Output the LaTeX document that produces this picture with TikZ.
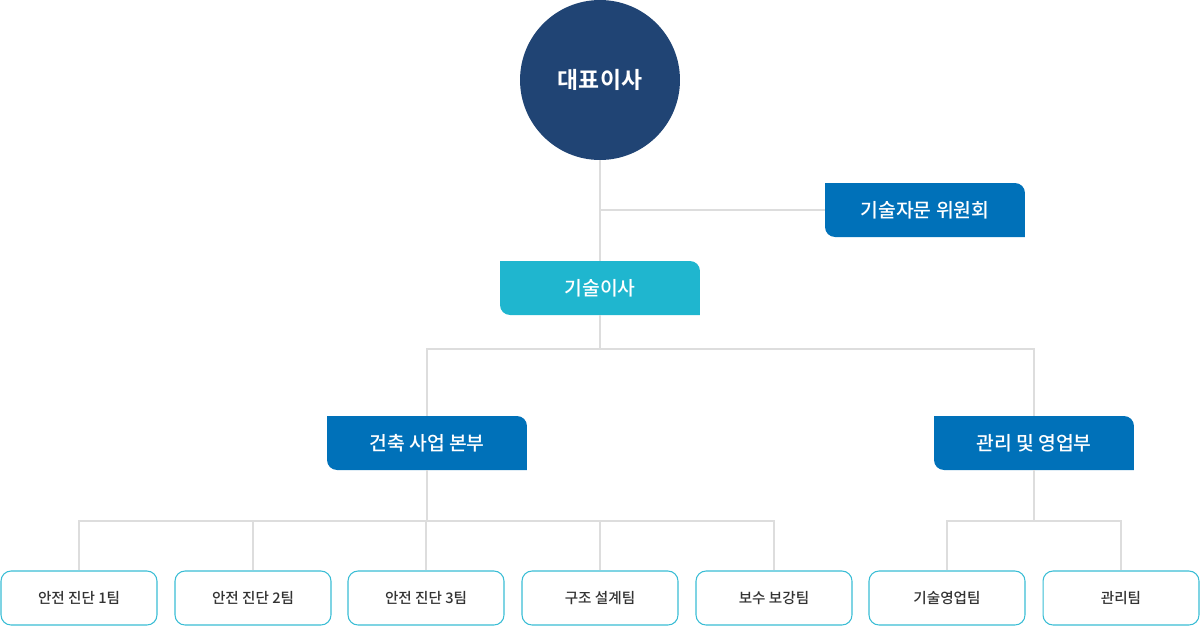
\documentclass[tikz,border=0pt]{standalone}
\usepackage{fontspec}
\newfontfamily\kr{Noto Sans CJK KR}[UprightFont={* Medium}, BoldFont={* Bold}]
\usetikzlibrary{calc}
\definecolor{navy}{HTML}{204474}
\definecolor{deptblue}{HTML}{0071B9}
\definecolor{techcyan}{HTML}{1FB6CF}
\definecolor{teamline}{HTML}{3ABDD5}
\definecolor{linkgray}{HTML}{DDDDDD}
\definecolor{teamtext}{HTML}{333333}

\tikzset{
	link/.style={draw=linkgray, line width=0.6pt},
	tagbox/.style={minimum width=4cm, minimum height=1.08cm, inner sep=0pt,
		text=white, font=\kr\fontsize{11}{13}\selectfont,
		path picture={
			\fill[#1] (path picture bounding box.north west)
				-- ($(path picture bounding box.north east)+(-0.2cm,0)$)
				arc[start angle=90, end angle=0, radius=0.2cm]
				-- (path picture bounding box.south east)
				-- ($(path picture bounding box.south west)+(0.2cm,0)$)
				arc[start angle=270, end angle=180, radius=0.2cm]
				-- cycle;
		}},
	teambox/.style={draw=teamline, line width=0.6pt, fill=white, rounded corners=0.2cm,
		minimum width=3.12cm, minimum height=1.08cm, inner sep=0pt,
		text=teamtext, font=\kr\fontsize{8.3}{10}\selectfont}
}

\begin{document}
\begin{tikzpicture}[x=0.02cm, y=-0.02cm]
	\useasboundingbox (0,0) rectangle (1200,626);
	
	% top
	\node[circle, fill=navy, minimum size=3.2cm, inner sep=0pt, text=white,
		font=\kr\bfseries\fontsize{13}{15}\selectfont] (ceo) at (600,80) {대표이사};
	\node[tagbox=deptblue] (board) at (925,210) {기술자문 위원회};
	\node[tagbox=techcyan] (cto) at (600,288) {기술이사};
	
	% departments
	\node[tagbox=deptblue] (arch) at (427,443) {건축 사업 본부};
	\node[tagbox=deptblue] (mgmt) at (1034,443) {관리 및 영업부};
	
	\coordinate (split) at (600,349);
	\coordinate (archsplit) at (427,521);
	\coordinate (mgmtsplit) at (1034,521);
	
	% links
	\draw[link] (ceo.south) -- (cto.north);
	\draw[link] (ceo.south |- board.west) -- (board.west);
	\draw[link] (cto.south) -- (split);
	\draw[link] (arch.north) |- (split) -| (mgmt.north);
	\draw[link] (arch.south) -- (archsplit);
	\draw[link] (mgmt.south) -- (mgmtsplit);
	
	% teams
	\foreach \name/\x/\team in {a1/79/안전 진단 1팀, a2/253/안전 진단 2팀, a3/426/안전 진단 3팀,
		a4/600/구조 설계팀, a5/774/보수 보강팀}{
		\node[teambox] (\name) at (\x,598) {\team};
		\draw[link] (\name.north) |- (archsplit);
	}
	\foreach \name/\x/\team in {m1/947/기술영업팀, m2/1121/관리팀}{
		\node[teambox] (\name) at (\x,598) {\team};
		\draw[link] (\name.north) |- (mgmtsplit);
	}
\end{tikzpicture}
\end{document}
